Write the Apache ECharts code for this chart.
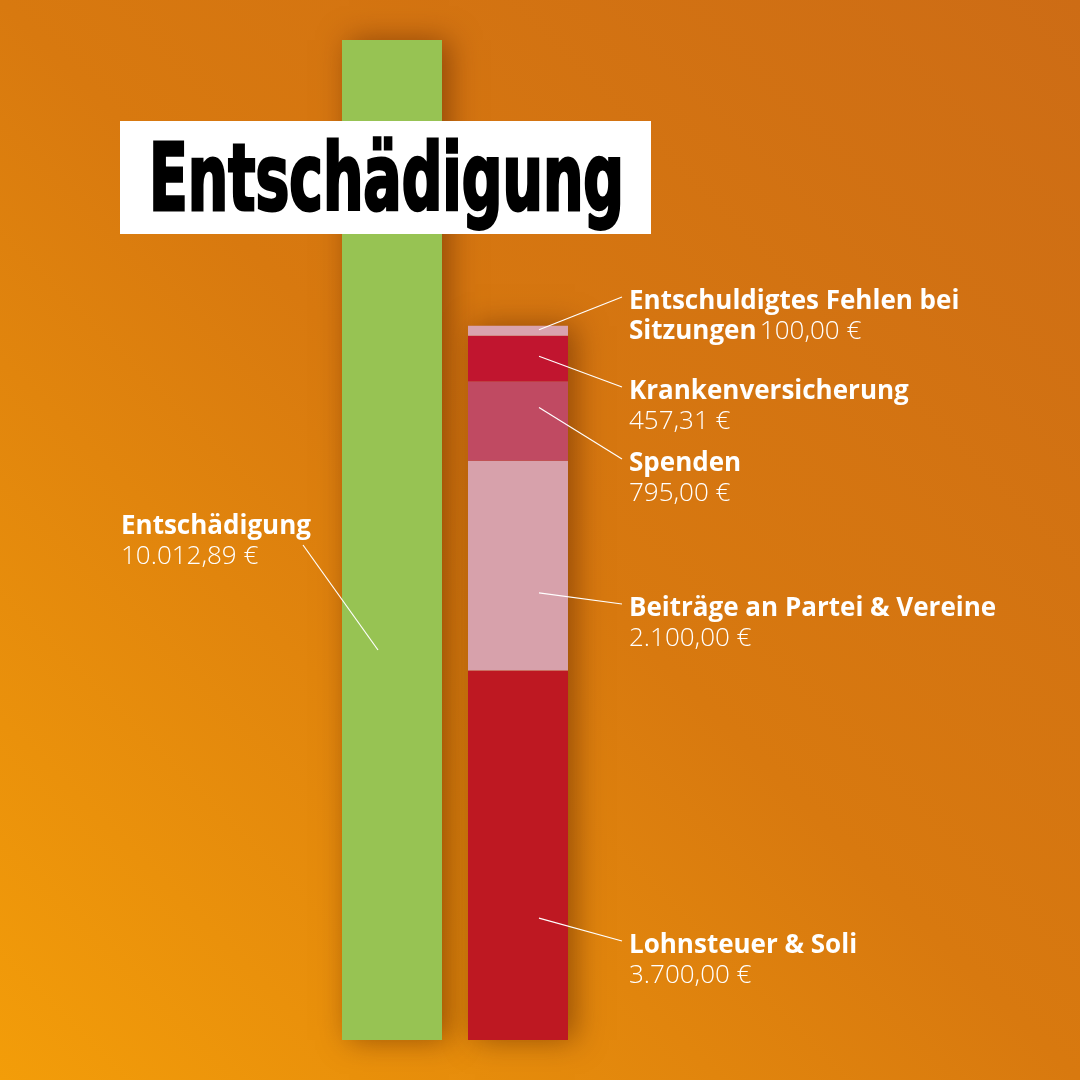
<!DOCTYPE html>
<html>
<head>
<meta charset="utf-8">
<script src="https://cdn.jsdelivr.net/npm/echarts@6/dist/echarts.min.js"></script>
<style>
  html, body { margin: 0; padding: 0; }
  #chart { width: 1080px; height: 1080px; }
</style>
</head>
<body>
<div id="chart"></div>
<script>
// Daten
var incomeName = 'Entschädigung';
var incomeValue = 10012.89;
var incomeLabel = '10.012,89 €';

// von unten nach oben gestapelt
var costNames = ['Lohnsteuer & Soli', 'Beiträge an Partei & Vereine', 'Spenden', 'Krankenversicherung', 'Entschuldigtes Fehlen bei Sitzungen'];
var costValues = [3700, 2100, 795, 457.31, 100];
var costLabels = ['3.700,00 €', '2.100,00 €', '795,00 €', '457,31 €', '100,00 €'];
var costColors = ['#be1822', '#d7a1ab', '#c04a62', '#c1152f', '#d9a3ae'];

// Beschriftung: Lage der Texte (links, erste Zeile) und Ankerpunkt im Segment (Anteil)
var costLabelPos = [[629, 944], [629, 607], [629, 462], [629, 390], [629, 300]];
var costAnchorFrac = [0.33, 0.37, 0.67, 0.55, 0.6];
var incomeLabelPos = [121, 525];
var incomeAnchorFrac = 0.39;

var font = '"Open Sans", Lato, sans-serif';

var chart = echarts.init(document.getElementById('chart'));

var costTotal = costValues.reduce(function(a, b){ return a + b; }, 0);

var series = [
    {
        // Schatten hinter den Balken
        name: 'shadow',
        type: 'bar',
        barWidth: 100,
        barGap: '-100%',
        z: 1,
        silent: true,
        itemStyle: {
            color: '#b85c10',
            shadowBlur: 28,
            shadowOffsetX: 7,
            shadowOffsetY: 0,
            shadowColor: 'rgba(90, 35, 0, 0.55)'
        },
        data: [incomeValue, costTotal]
    },
    {
        name: incomeName,
        type: 'bar',
        stack: 'total',
        barWidth: 100,
        barGap: '-100%',
        itemStyle: { color: '#97c353' },
        data: [incomeValue, '-']
    }
];
costNames.forEach(function(n, i){
    series.push({
        name: n,
        type: 'bar',
        stack: 'total',
        barWidth: 100,
        barGap: '-100%',
        itemStyle: { color: costColors[i] },
        data: ['-', costValues[i]]
    });
});

chart.setOption({
    animation: false,
    backgroundColor: new echarts.graphic.LinearGradient(0, 1, 1, 0, [
        { offset: 0, color: '#f39d09' },
        { offset: 0.5, color: '#d8790f' },
        { offset: 1, color: '#cd6c15' }
    ]),
    grid: { left: 329, width: 252, top: 40, bottom: 40 },
    xAxis: {
        type: 'category',
        data: ['in', 'out'],
        show: false
    },
    yAxis: {
        type: 'value',
        min: 0,
        max: 'dataMax',
        show: false
    },
    series: series
});

// Anmerkungen
var graphics = [];
var lineStyle = { stroke: '#ffffff', lineWidth: 1.2 };
var rich = {
    b: { fontFamily: font, fontWeight: 'bold', fontSize: 26, fill: '#fff', lineHeight: 30 },
    r: { fontFamily: font, fontWeight: 300, fontSize: 26, fill: '#fff', lineHeight: 30 }
};

var base = 0;
costValues.forEach(function(v, i){
    var p = chart.convertToPixel({ seriesIndex: 0 }, [1, base + v * costAnchorFrac[i]]);
    base += v;
    var pos = costLabelPos[i];
    graphics.push({
        type: 'line',
        shape: { x1: p[0] + 21, y1: p[1], x2: pos[0] - 7, y2: pos[1] - 3 },
        style: lineStyle,
        z: 10
    });
    var txt;
    if (i === 4) {
        txt = '{b|Entschuldigtes Fehlen bei}\n{b|Sitzungen} {r|' + costLabels[i] + '}';
    } else {
        txt = '{b|' + costNames[i] + '}\n{r|' + costLabels[i] + '}';
    }
    graphics.push({
        type: 'text',
        x: pos[0],
        y: pos[1] - 13,
        z: 10,
        style: { text: txt, rich: rich, align: 'left', verticalAlign: 'top' }
    });
});

var gp = chart.convertToPixel({ seriesIndex: 0 }, [0, incomeValue * incomeAnchorFrac]);
graphics.push({
    type: 'line',
    shape: { x1: incomeLabelPos[0] + 182, y1: incomeLabelPos[1] + 20, x2: gp[0] - 14, y2: gp[1] },
    style: lineStyle,
    z: 10
});
graphics.push({
    type: 'text',
    x: incomeLabelPos[0],
    y: incomeLabelPos[1] - 13,
    z: 10,
    style: { text: '{b|' + incomeName + '}\n{r|' + incomeLabel + '}', rich: rich, align: 'left', verticalAlign: 'top' }
});

// Titel
var titleFont = '"Liberation Sans Narrow", "DejaVu Sans Condensed", Arial, sans-serif';
var ctx = document.createElement('canvas').getContext('2d');
ctx.font = 'bold 92px ' + titleFont;
var tw = ctx.measureText(incomeName).width;
graphics.push({
    type: 'rect',
    shape: { x: 120, y: 121, width: 531, height: 113 },
    style: { fill: '#ffffff' },
    z: 20
});
graphics.push({
    type: 'text',
    x: 149,
    y: 186,
    scaleX: 475 / tw,
    z: 21,
    style: {
        text: incomeName,
        fontFamily: titleFont,
        fontWeight: 'bold',
        fontSize: 92,
        fill: '#000',
        stroke: '#000',
        lineWidth: 3,
        align: 'left',
        verticalAlign: 'middle'
    }
});

chart.setOption({ graphic: graphics });
</script>
</body>
</html>
